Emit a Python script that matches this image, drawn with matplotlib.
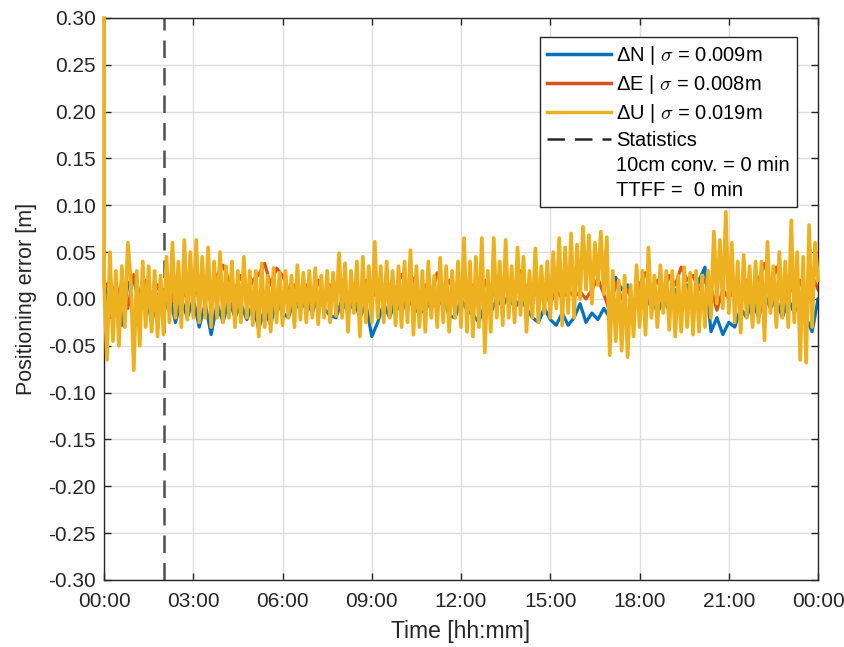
import numpy as np
import matplotlib
matplotlib.use('Agg')
import matplotlib.pyplot as plt

# ---- data (errors in metres, time in hours) ----
# first U fix at 00:00, before the filter settles
dU_first = 0.30
# vertical (U) error, one sample every 0.1 h
dU = [0.02, -0.065, 0.05, -0.045, 0.03, -0.05, 0.035, -0.03, 0.06, 0.02,
      -0.076, 0.03, -0.05, 0.04, -0.03, 0.035, -0.035, 0.03, -0.04, 0.025,
      -0.038, 0.045, -0.025, 0.06, -0.02, 0.04, -0.03, 0.063, -0.022, 0.05,
      -0.02, 0.063, -0.025, 0.045, -0.02, 0.055, -0.03, 0.04, -0.02, 0.05,
      -0.025, 0.035, -0.02, 0.04, -0.03, 0.03, -0.025, 0.045, -0.02, 0.03,
      -0.028, 0.03, -0.04, 0.038, -0.03, 0.025, -0.035, 0.033, -0.025, 0.028,
      -0.028, 0.03, -0.02, 0.025, -0.03, 0.036, -0.022, 0.028, -0.025, 0.03,
      -0.02, 0.033, -0.027, 0.025, -0.02, 0.03, -0.025, 0.028, -0.018, 0.049,
      -0.02, 0.038, -0.035, 0.03, -0.015, 0.04, -0.04, 0.045, -0.025, 0.035,
      -0.025, 0.061, -0.02, 0.035, -0.025, 0.04, -0.02, 0.03, -0.028, 0.035,
      -0.03, 0.04, -0.025, 0.052, -0.038, 0.035, -0.03, 0.03, -0.035, 0.04,
      -0.02, 0.025, -0.03, 0.044, -0.025, 0.035, -0.035, 0.03, -0.02, 0.04,
      -0.03, 0.065, -0.035, 0.04, -0.04, 0.045, -0.03, 0.065, -0.057, 0.03,
      -0.035, 0.065, -0.02, 0.04, -0.028, 0.063, -0.02, 0.035, -0.025, 0.055,
      -0.017, 0.045, -0.035, 0.03, -0.02, 0.054, -0.025, 0.035, -0.015, 0.04,
      -0.02, 0.05, -0.01, 0.065, -0.028, 0.055, -0.015, 0.07, -0.02, 0.058,
      0.0, 0.077, 0.01, 0.068, -0.005, 0.06, 0.015, 0.072, 0.005, 0.066,
      -0.06, 0.03, -0.045, 0.02, -0.055, 0.025, -0.062, 0.015, -0.04, 0.036,
      -0.03, 0.03, -0.038, 0.055, -0.02, 0.025, -0.03, 0.036, -0.015, 0.03,
      -0.033, 0.03, -0.04, 0.025, -0.035, 0.034, -0.03, 0.028, -0.038, 0.03,
      -0.035, 0.025, -0.03, 0.03, -0.02, 0.072, -0.005, 0.063, -0.01, 0.093,
      -0.015, 0.06, -0.025, 0.04, -0.036, 0.047, -0.02, 0.035, -0.03, 0.04,
      -0.025, 0.04, -0.044, 0.061, -0.015, 0.035, -0.03, 0.05, -0.02, 0.04,
      -0.03, 0.084, -0.025, 0.05, -0.065, 0.045, -0.068, 0.079, -0.03, 0.06,
      0.02]

# north (N) error, one sample every 0.2 h
dN = [0.02, -0.02, 0.01, -0.028, 0.015, 0.025, -0.015, 0.01, -0.026, 0.005,
      -0.015, 0.005, -0.025, 0.0, -0.02, 0.0, -0.03, -0.005, -0.038, -0.005,
      -0.025, 0.0, -0.02, -0.005, -0.022, -0.005, -0.032, -0.01, -0.028, 0.0,
      -0.015, -0.02, 0.0, -0.012, 0.0, -0.015, 0.005, -0.01, -0.018, -0.02,
      0.0, -0.015, 0.0, -0.02, -0.005, -0.04, -0.025, -0.005, -0.02, 0.0,
      -0.015, 0.005, -0.01, -0.015, -0.012, 0.0, -0.01, 0.005, -0.018, -0.02,
      0.0, -0.012, -0.017, -0.025, -0.005, -0.015, 0.0, -0.008, 0.005, -0.01,
      0.0, -0.01, -0.02, -0.025, -0.01, -0.022, -0.028, -0.015, -0.028, -0.02,
      -0.005, -0.025, -0.015, -0.022, -0.01, -0.02, 0.023, 0.01, 0.015, -0.005,
      0.01, -0.01, 0.005, -0.015, 0.0, -0.012, 0.01, -0.01, 0.015, -0.005,
      0.02, 0.034, -0.035, -0.02, -0.038, -0.025, -0.03, -0.01, -0.02, 0.0,
      -0.02, 0.005, -0.01, 0.0, -0.02, 0.0, -0.015, 0.005, -0.02, -0.035,
      0.0]

# east (E) error, one sample every 0.2 h
dE = [0.01, 0.02, 0.0, 0.017, -0.01, 0.026, 0.005, 0.02, -0.005, 0.015,
      0.0, 0.015, -0.008, 0.01, 0.0, 0.02, 0.0, 0.02, -0.005, 0.025,
      0.036, 0.02, 0.01, 0.025, 0.005, 0.02, 0.026, 0.038, 0.015, 0.033,
      0.025, 0.01, 0.015, 0.0, 0.015, 0.005, 0.02, 0.0, 0.015, 0.005,
      0.02, 0.0, 0.015, 0.005, 0.02, 0.0, 0.015, 0.005, 0.015, 0.01,
      0.026, 0.012, 0.022, 0.0, 0.015, 0.005, 0.028, 0.01, 0.02, 0.005,
      0.02, 0.0, 0.015, 0.005, 0.02, 0.0, 0.015, 0.005, 0.02, 0.01,
      0.03, 0.01, 0.015, 0.0, 0.01, -0.005, 0.01, 0.0, 0.01, 0.002,
      0.008, 0.0, 0.01, 0.022, 0.005, -0.013, 0.018, 0.0, 0.01, -0.006,
      0.015, 0.028, 0.01, 0.02, 0.005, 0.025, 0.015, 0.034, 0.02, 0.025,
      0.01, 0.02, 0.012, -0.012, 0.01, 0.0, 0.015, 0.005, 0.02, 0.01,
      0.02, 0.038, 0.015, 0.034, 0.01, 0.02, 0.005, 0.02, 0.0, 0.025,
      0.01]

stats_start = 2.0  # hours, start of statistics window
sigma_labels = ['0.009m', '0.008m', '0.019m']
conv_text = '10cm conv. = 0 min'
ttff_text = 'TTFF =  0 min'
hour_ticks = [0, 3, 6, 9, 12, 15, 18, 21, 24]
hour_labels = ['00:00', '03:00', '06:00', '09:00', '12:00', '15:00', '18:00', '21:00', '00:00']
err_ticks = [-0.30, -0.25, -0.20, -0.15, -0.10, -0.05, 0.0, 0.05, 0.10, 0.15, 0.20, 0.25, 0.30]

# MATLAB default colours
c_n = '#0072BD'
c_e = '#D95319'
c_u = '#EDB120'

plt.rcParams['font.family'] = ['Liberation Sans', 'DejaVu Sans']
plt.rcParams['mathtext.fontset'] = 'cm'

fig = plt.figure(figsize=(8.45, 6.47), dpi=100)
ax = fig.add_axes([0.1231, 0.1036, 0.8450, 0.8686])

t_u = np.linspace(0, 24, len(dU))
t_n = np.linspace(0, 24, len(dN))
t_e = np.linspace(0, 24, len(dE))

# the first U fix sits at 00:00 as well, giving the vertical jump at the start
t_u_all = np.concatenate(([0.0], t_u))
u_all = [dU_first] + dU

ax.plot(t_n, dN, color=c_n, lw=2.3, label='ΔN | $\\sigma$ = ' + sigma_labels[0])
ax.plot(t_e, dE, color=c_e, lw=2.3, label='ΔE | $\\sigma$ = ' + sigma_labels[1])
ax.plot(t_u_all, u_all, color=c_u, lw=2.7, label='ΔU | $\\sigma$ = ' + sigma_labels[2],
        clip_on=False, zorder=2.6)
ax.axvline(stats_start, color='#505050', lw=1.8, ls=(0, (7, 4)), label='Statistics')

# text-only legend rows
ax.plot([], [], ls='none', label=conv_text)
ax.plot([], [], ls='none', label=ttff_text)

ax.set_xlim(0, 24)
ax.set_ylim(-0.30, 0.30)
ax.set_xticks(hour_ticks)
ax.set_xticklabels(hour_labels)
ax.set_yticks(err_ticks)
ax.set_yticklabels([f'{v:.2f}' for v in err_ticks])

ax.grid(True, color='#dedede', lw=1)
ax.set_axisbelow(True)
for s in ax.spines.values():
    s.set_color('#262626')
    s.set_linewidth(1)
ax.tick_params(direction='in', length=5, width=1, colors='#262626', labelsize=15,
               top=True, right=True)
ax.tick_params(axis='x', pad=9)
ax.tick_params(axis='y', pad=6)

ax.set_xlabel('Time [hh:mm]', fontsize=16.5, color='#262626', labelpad=6)
ax.set_ylabel('Positioning error [m]', fontsize=15.5, color='#262626', labelpad=8)

leg = ax.legend(loc='upper right', bbox_to_anchor=(0.9706, 0.966), fontsize=14.5,
                fancybox=False, framealpha=1, edgecolor='#262626',
                handlelength=3.2, handletextpad=0.25, labelspacing=0.3,
                borderaxespad=0, borderpad=0.35)
leg.set_zorder(5)
leg.get_frame().set_linewidth(1)
for h in leg.get_lines()[:3]:
    h.set_linewidth(2.5)
leg.get_lines()[3].set_color('#262626')

fig.savefig('out.png', dpi=100)
